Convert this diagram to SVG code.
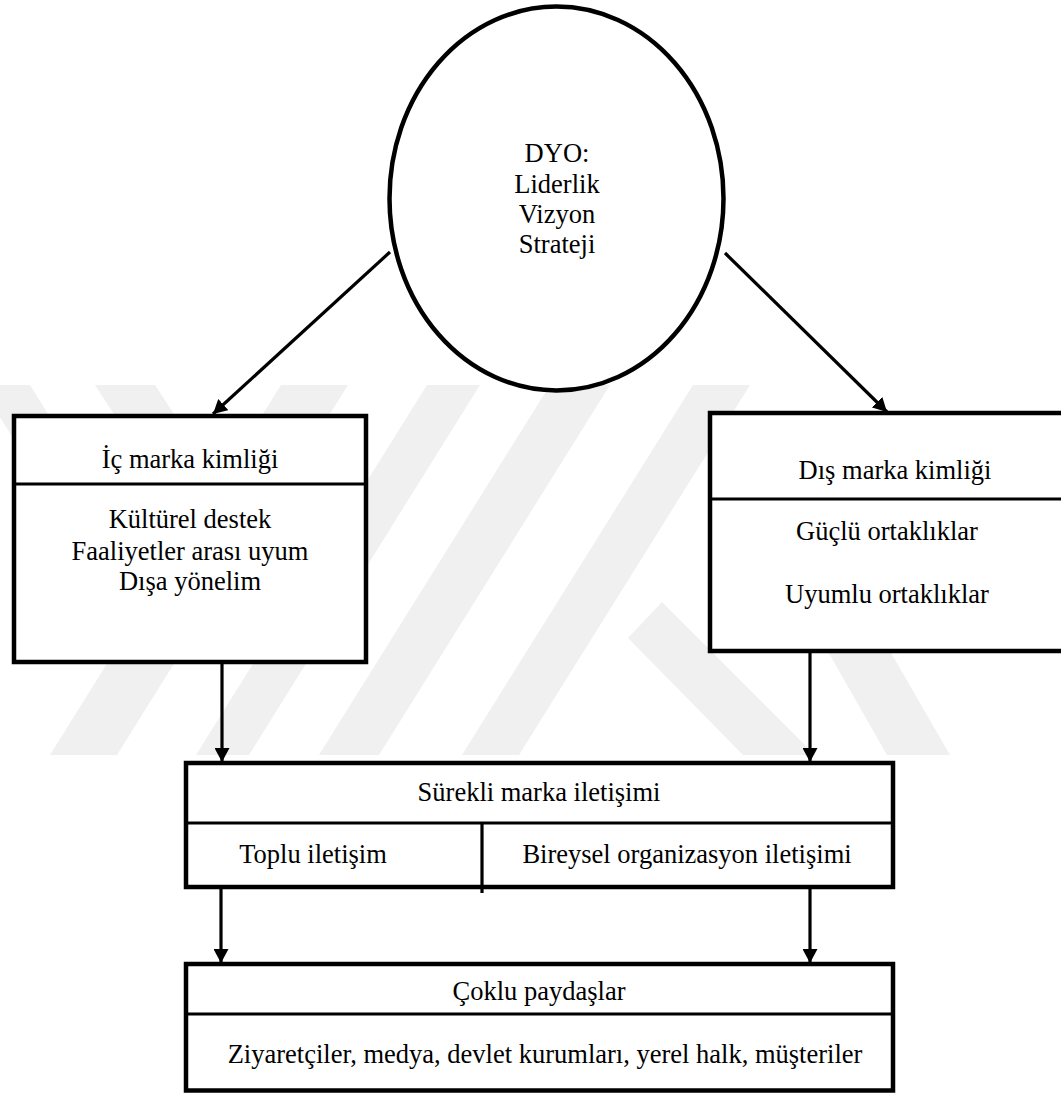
<svg xmlns="http://www.w3.org/2000/svg" width="1061" height="1093" viewBox="0 0 1061 1093">
  <style>
    .t { font-family: "Liberation Serif", "Times New Roman", serif; font-size: 26.5px; fill: #000; text-anchor: middle; }
    .box { fill: #fff; stroke: #000; stroke-width: 4.5; }
    .div { stroke: #000; stroke-width: 3.2; fill: none; }
    .con { stroke: #000; stroke-width: 3.2; fill: none; marker-end: url(#ah); }
    .wm { fill: #f0f0f0; }
  </style>
  <defs>
    <marker id="ah" markerUnits="userSpaceOnUse" markerWidth="15" markerHeight="15" refX="14" refY="7.5" orient="auto">
      <path d="M0,0 L14,7.5 L0,15 z" fill="#000"/>
    </marker>
  </defs>
  <rect width="1061" height="1093" fill="#fff"/>
  <g id="watermark">
    <polygon class="wm" points="-20,385 30,385 120,530 70,530"/>
    <polygon class="wm" points="95,385 155,385 230,500 170,500"/>
    <polygon class="wm" points="281,385 348,385 117,755 50,755"/>
    <polygon class="wm" points="427,385 480,385 249,755 196,755"/>
    <polygon class="wm" points="550,385 610,385 379,755 319,755"/>
    <polygon class="wm" points="693,385 750,385 519,755 462,755"/>
    <polygon class="wm" points="628,638 662,602 815,755 743,755"/>
    <polygon class="wm" points="810,620 872,620 950,755 887,755"/>
  </g>
  <g id="connectors">
    <line class="con" x1="390" y1="252" x2="213" y2="414"/>
    <line class="con" x1="725" y1="253" x2="887" y2="412"/>
    <line class="con" x1="222" y1="664" x2="222" y2="762"/>
    <line class="con" x1="810" y1="653" x2="810" y2="762"/>
    <line class="con" x1="221" y1="889" x2="221" y2="963"/>
    <line class="con" x1="810" y1="889" x2="810" y2="963"/>
  </g>
  <g id="node-dyo">
    <ellipse cx="556.5" cy="198.5" rx="167" ry="192" fill="#fff" stroke="#000" stroke-width="4.5"/>
    <text class="t" x="557" y="162">DYO:</text>
    <text class="t" x="557" y="192.5">Liderlik</text>
    <text class="t" x="557" y="222.5">Vizyon</text>
    <text class="t" x="557" y="253">Strateji</text>
  </g>
  <g id="node-ic">
    <rect class="box" x="14" y="416" width="352" height="246"/>
    <line class="div" x1="14" y1="484" x2="366" y2="484"/>
    <text class="t" x="190" y="468">İç marka kimliği</text>
    <text class="t" x="190" y="528">Kültürel destek</text>
    <text class="t" x="190" y="560">Faaliyetler arası uyum</text>
    <text class="t" x="190" y="590">Dışa yönelim</text>
  </g>
  <g id="node-dis">
    <rect class="box" x="710" y="413" width="360" height="238"/>
    <line class="div" x1="710" y1="499" x2="1070" y2="499"/>
    <text class="t" x="895" y="479">Dış marka kimliği</text>
    <text class="t" x="887" y="540">Güçlü ortaklıklar</text>
    <text class="t" x="887" y="603">Uyumlu ortaklıklar</text>
  </g>
  <g id="node-iletisim">
    <rect class="box" x="186" y="763" width="707" height="124"/>
    <line class="div" x1="186" y1="823" x2="893" y2="823"/>
    <line class="div" x1="482" y1="823" x2="482" y2="893"/>
    <text class="t" x="539" y="801">Sürekli marka iletişimi</text>
    <text class="t" x="313" y="863">Toplu iletişim</text>
    <text class="t" x="687" y="863">Bireysel organizasyon iletişimi</text>
  </g>
  <g id="node-paydaslar">
    <rect class="box" x="186" y="964" width="707" height="126.5"/>
    <line class="div" x1="186" y1="1014" x2="893" y2="1014"/>
    <text class="t" x="539" y="1000">Çoklu paydaşlar</text>
    <text class="t" x="545" y="1063">Ziyaretçiler, medya, devlet kurumları, yerel halk, müşteriler</text>
  </g>
</svg>
